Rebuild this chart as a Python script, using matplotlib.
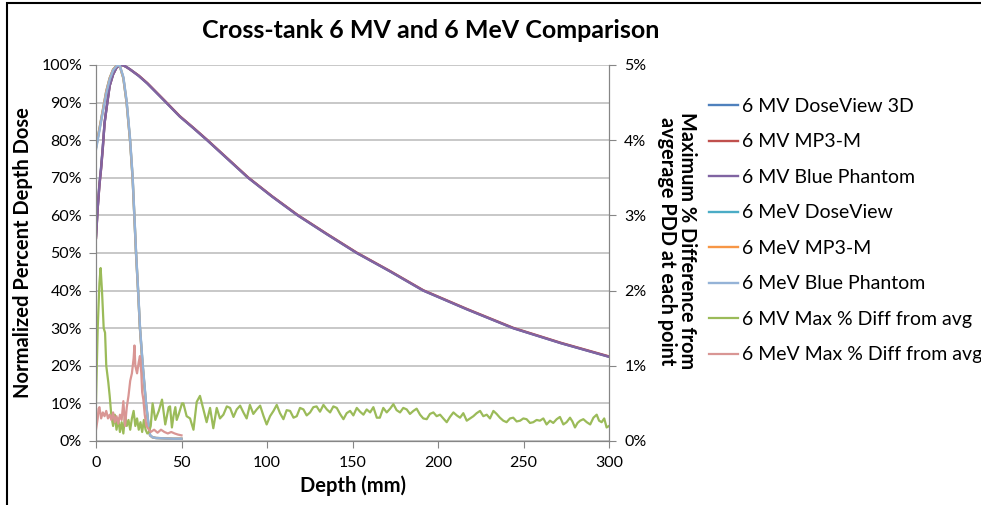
import matplotlib
matplotlib.use("Agg")
import matplotlib.pyplot as plt
from matplotlib.patches import Rectangle
from matplotlib.ticker import FuncFormatter, MultipleLocator

plt.rcParams["font.family"] = ["Lato", "DejaVu Sans"]

# --- data ---
mv_depth = [0, 1, 2, 3, 4, 5, 6, 8, 10, 12, 14, 16, 18, 20, 25, 30, 35, 40, 49, 57, 65,
            77, 89, 103, 118, 135, 152.5, 172, 191.4, 217, 244, 272, 300]
mv_doseview = [54.5, 62, 68.5, 73, 78.5, 84.5, 88, 94.5, 97.5, 99.3, 100, 99.9, 99.4, 98.8, 97.1,
               95.1, 92.8, 90.5, 86.3, 83.2, 80, 75, 70, 65, 60, 55, 50, 45.1, 40, 35, 30, 26, 22.4]
mv_mp3m = [54, 62, 68, 72.5, 78, 84.5, 88, 94.5, 97.5, 99.3, 100, 99.9, 99.4, 98.8, 97.2,
           95.2, 92.9, 90.6, 86.4, 83.3, 80.1, 75.1, 70.1, 65.1, 60.1, 55.1, 50.1, 45.2, 40.1, 35.1, 30.1, 26.1, 22.5]
mv_blue = [54, 62, 68, 72.5, 78, 84.5, 88, 94.5, 97.5, 99.3, 100, 99.9, 99.4, 98.8, 97.1,
           95.1, 92.8, 90.5, 86.3, 83.2, 80, 75, 70, 65, 60, 55, 50, 45.1, 40, 35, 30, 26, 22.4]

mev_depth = [0, 2, 4, 6, 8, 10, 12, 13, 14, 16, 17.9, 19.9, 21.4, 22.4, 23.4, 24.6, 25.7,
             27.3, 29.2, 30.5, 31.6, 33, 35, 40, 45, 50]
mev_doseview = [78, 83, 88, 93, 96.5, 98.8, 99.8, 100, 99.6, 96.5, 90, 80, 70, 60, 50, 40, 30,
                20, 10, 5, 1.5, 1, 0.8, 0.7, 0.6, 0.6]
mev_mp3m = [78, 83, 88, 93, 96.5, 98.8, 99.8, 100, 99.6, 96.5, 90, 80, 70, 60, 50, 40, 30,
            20, 10, 5, 1.5, 1, 0.8, 0.7, 0.6, 0.6]
mev_blue = [77.5, 82.5, 87.5, 92.5, 96.2, 98.6, 99.7, 100, 99.7, 96.8, 90.5, 80.5, 70.5, 60.5,
            50.5, 40.5, 30.5, 20.5, 10.5, 5.2, 1.6, 1, 0.8, 0.7, 0.6, 0.6]

mv_diff_depth = [0, 1, 2, 2.7, 3.5, 4.5, 5.3, 6, 7.2, 8, 9, 10, 11, 12, 13, 14, 15, 16, 17, 18,
                 19, 20, 21, 22, 23, 24, 25, 26, 27, 28, 29, 30, 31, 32, 33.1, 34.7, 36.7, 38.6,
                 40.5, 42.5, 43.3, 44.4, 45.3, 46.4, 47.2, 48.3, 50.3, 51.1, 52.2, 53, 55, 57,
                 58.9, 60.8, 62.8, 64.7, 66.7, 68.6, 70.6, 72.5, 74.5, 76.5, 78.4, 80.4, 82.3,
                 84.3, 86.2, 88.1, 90, 92, 94, 96, 98, 99.8, 101.8, 103.8, 105.7, 107.6, 109.6,
                 111.5, 113.5, 115.5, 117.4, 119.3, 121.3, 123.2, 125.2, 127.1, 129, 131, 133,
                 135, 136.9, 138.8, 140.8, 142.7, 144.7, 146.6, 148.6, 150.5, 152.5, 154.4,
                 156.4, 158.3, 160.3, 162.2, 164.2, 166, 168, 170, 172, 173.9, 175.8, 177.8,
                 179.7, 181.7, 183.6, 185.6, 187.5, 189.5, 191.4, 193.4, 195.3, 197.3, 199.2,
                 201.2, 203.1, 205.1, 207, 209, 211, 212.9, 214.8, 216.8, 218.7, 220.7, 222.6,
                 224.6, 226.5, 228.5, 230.4, 232.4, 234.3, 236.2, 238.2, 240.1, 242.1, 244,
                 246, 248, 249.9, 251.8, 253.8, 255.7, 257.7, 259.6, 261.6, 263.5, 265.5,
                 267.4, 269.4, 271.3, 273.3, 275.2, 277.2, 278.6, 280.1, 281.6, 283.1, 285,
                 287, 289, 290.9, 292.8, 294.2, 295.7, 297.2, 298.6, 300]
mv_diff = [0.53, 1.5, 2.1, 2.3, 2.0, 1.5, 1.44, 1.0, 0.78, 0.6, 0.33, 0.2, 0.35, 0.15, 0.3,
           0.12, 0.25, 0.1, 0.35, 0.2, 0.28, 0.15, 0.3, 0.4, 0.2, 0.3, 0.15, 0.25, 0.12, 0.28,
           0.15, 0.1, 0.12, 0.2, 0.5, 0.28, 0.4, 0.55, 0.22, 0.45, 0.46, 0.18, 0.33, 0.45,
           0.28, 0.35, 0.5, 0.5, 0.4, 0.33, 0.3, 0.15, 0.52, 0.6, 0.42, 0.25, 0.44, 0.17, 0.44,
           0.3, 0.35, 0.46, 0.44, 0.32, 0.42, 0.47, 0.38, 0.3, 0.48, 0.36, 0.42, 0.47, 0.33,
           0.22, 0.33, 0.4, 0.48, 0.37, 0.29, 0.41, 0.4, 0.31, 0.33, 0.44, 0.42, 0.34, 0.38,
           0.45, 0.46, 0.39, 0.48, 0.42, 0.38, 0.46, 0.44, 0.36, 0.29, 0.37, 0.4, 0.34, 0.44,
           0.39, 0.35, 0.42, 0.38, 0.45, 0.31, 0.31, 0.44, 0.38, 0.43, 0.49, 0.41, 0.38,
           0.44, 0.42, 0.36, 0.4, 0.43, 0.35, 0.3, 0.29, 0.36, 0.38, 0.33, 0.35, 0.3, 0.25,
           0.32, 0.38, 0.34, 0.31, 0.37, 0.27, 0.3, 0.33, 0.37, 0.4, 0.33, 0.35, 0.3, 0.4,
           0.36, 0.31, 0.27, 0.25, 0.3, 0.31, 0.26, 0.27, 0.3, 0.29, 0.24, 0.25, 0.28, 0.27,
           0.3, 0.22, 0.27, 0.24, 0.29, 0.32, 0.22, 0.25, 0.31, 0.26, 0.18, 0.24, 0.27,
           0.29, 0.25, 0.22, 0.31, 0.35, 0.27, 0.25, 0.3, 0.18, 0.2]

mev_diff_depth = [0, 1, 1.5, 2, 3, 4, 5, 6, 7, 8, 9, 10, 11, 12, 13, 14, 15, 16, 17, 18, 19,
                  20, 21, 22, 22.5, 23, 24, 25, 25.7, 26.5, 27, 27.7, 28.5, 29.5, 31, 32, 34,
                  36, 38, 40, 42, 44, 46, 48, 50]
mev_diff = [0.15, 0.3, 0.43, 0.45, 0.3, 0.38, 0.33, 0.4, 0.3, 0.35, 0.28, 0.38, 0.25, 0.33,
            0.23, 0.35, 0.28, 0.53, 0.2, 0.45, 0.6, 0.8, 0.9, 1.1, 1.27, 1.0, 0.9, 1.05, 1.13,
            0.9, 0.65, 0.55, 0.35, 0.2, 0.15, 0.12, 0.15, 0.11, 0.15, 0.12, 0.1, 0.12, 0.1,
            0.085, 0.075]

labels = ["6 MV DoseView 3D", "6 MV MP3-M", "6 MV Blue Phantom", "6 MeV DoseView",
          "6 MeV MP3-M", "6 MeV Blue Phantom", "6 MV Max % Diff from avg",
          "6 MeV Max % Diff from avg"]
colors = ["#4F81BD", "#C0504D", "#8064A2", "#4BACC6", "#F79646", "#95B3D7", "#9BBB59", "#D99694"]

GRID = "#BFBFBF"
AXC = "#868686"

fig = plt.figure(figsize=(9.81, 5.05), dpi=100)
ax = fig.add_axes([96 / 981, 1 - 441 / 505, 513 / 981, 376 / 505])
ax2 = ax.twinx()

handles = []
for xs, ys, c, lab in [(mv_depth, mv_doseview, colors[0], labels[0]),
                       (mv_depth, mv_mp3m, colors[1], labels[1]),
                       (mv_depth, mv_blue, colors[2], labels[2]),
                       (mev_depth, mev_doseview, colors[3], labels[3]),
                       (mev_depth, mev_mp3m, colors[4], labels[4]),
                       (mev_depth, mev_blue, colors[5], labels[5])]:
    h, = ax.plot(xs, ys, color=c, lw=1.7, label=lab)
    handles.append(h)
for xs, ys, c, lab in [(mv_diff_depth, mv_diff, colors[6], labels[6]),
                       (mev_diff_depth, mev_diff, colors[7], labels[7])]:
    h, = ax2.plot(xs, ys, color=c, lw=1.6, label=lab)
    handles.append(h)

ax.set_xlim(0, 300)
ax.set_ylim(0, 100)
ax2.set_ylim(0, 5)
ax.xaxis.set_major_locator(MultipleLocator(50))
ax.yaxis.set_major_locator(MultipleLocator(10))
ax2.yaxis.set_major_locator(MultipleLocator(1))
ax.yaxis.set_major_formatter(FuncFormatter(lambda v, p: f"{v:.0f}%"))
ax2.yaxis.set_major_formatter(FuncFormatter(lambda v, p: f"{v:.0f}%"))
ax.grid(axis="y", color=GRID, lw=1.2)
ax.set_axisbelow(True)

for a in (ax, ax2):
    a.spines["top"].set_visible(False)
    for s in ("left", "right", "bottom"):
        a.spines[s].set_color(AXC)
    a.tick_params(colors=AXC, labelcolor="black", labelsize=11.5, length=5)
ax.tick_params(axis="y", pad=5)
ax2.tick_params(axis="y", pad=6)
ax.tick_params(axis="x", pad=6)

ax.set_xlabel("Depth (mm)", fontsize=14.5, fontweight="bold", labelpad=4)
ax.set_ylabel("Normalized Percent Depth Dose", fontsize=14.5, fontweight="bold", labelpad=6)
fig.text(677 / 981, 1 - 241 / 505, "Maximum % Difference from\navgerage PDD at each point",
         rotation=-90, ha="center", va="center", fontsize=14.3, fontweight="bold",
         linespacing=1.0)

fig.text(431 / 981, 1 - 30 / 505, "Cross-tank 6 MV and 6 MeV Comparison",
         ha="center", va="center", fontsize=18, fontweight="bold")

fig.legend(handles, labels, loc="upper left", bbox_to_anchor=(709 / 981, 1 - 98 / 505),
           frameon=False, fontsize=14, handlelength=1.5, handletextpad=0.2,
           labelspacing=0.95, borderpad=0, borderaxespad=0)

# chart border (black frame, partially visible)
fig.patches.append(Rectangle((7 / 981, -0.1), 1.2, 1.1 - 3 / 505, transform=fig.transFigure,
                             fill=False, edgecolor="black", lw=1.5, clip_on=False))

fig.savefig("out.png", dpi=100)
